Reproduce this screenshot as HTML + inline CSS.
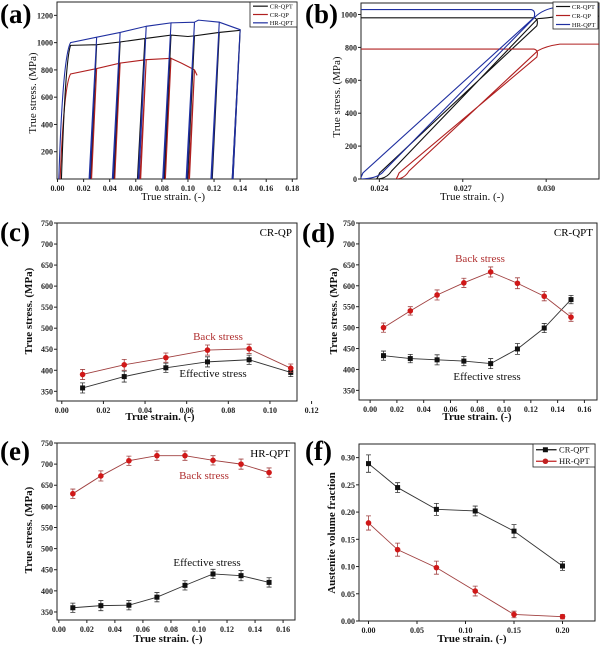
<!DOCTYPE html>
<html><head><meta charset="utf-8">
<style>
html,body{margin:0;padding:0;background:#fff;}
svg{display:block;font-family:"Liberation Serif","Times New Roman",serif;}
svg text{font-family:"Liberation Serif","Times New Roman",serif;}
</style></head>
<body>
<svg id="fig" width="600" height="646" viewBox="0 0 600 646" xmlns="http://www.w3.org/2000/svg"></svg>
<script>
// ---------- DATA ----------
// (a) cyclic stress-strain
const aStartCRQPT = 0.003, aStartCRQP = 0.002, aStartHRQPT = 0.001;
const aStrainCRQPT = [0.010,0.030,0.048,0.067,0.087,0.100,0.105,0.124,0.140];
const aStressCRQPT = [980,985,1005,1030,1055,1045,1050,1075,1090];
const aUnloadCRQPT = [0.030,0.048,0.067,0.087,0.105,0.124,0.140];
const aStrainHRQPT = [0.010,0.030,0.048,0.068,0.087,0.105,0.108,0.124,0.140];
const aStressHRQPT = [1000,1040,1075,1120,1145,1150,1165,1150,1095];
const aUnloadHRQPT = [0.030,0.048,0.068,0.087,0.105,0.124,0.140];
const aStrainCRQP = [0.010,0.030,0.048,0.068,0.087,0.095,0.103,0.105,0.107];
const aStressCRQP = [770,810,850,875,885,850,810,800,760];
const aUnloadCRQP = [0.030,0.048,0.068,0.087,0.105];
const aXTicks = [0,0.02,0.04,0.06,0.08,0.10,0.12,0.14,0.16,0.18];
const aYTicks = [200,400,600,800,1000,1200];
// (b) single hysteresis loop
const bSeries = ['CR-QPT','CR-QP','HR-QPT'];
const bPlateau = [980,790,1030];
const bPeak = [0.0297,0.0297,0.0296];
const bResidual = [0.0239,0.0246,0.0233];
const bReload = [975,780,985];
const bAfter = [990,820,1045];
const bXTicks = [0.024,0.027,0.030];
const bYTicks = [0,200,400,600,800,1000];
// (c) CR-QP
const cStrain = [0.01,0.03,0.05,0.07,0.09,0.11];
const cBack = [390,413,430,448,451,405];
const cEff = [358,385,406,420,425,395];
const cErr = [12,13,11,12,11,10];
// (d) CR-QPT
const dStrain = [0.01,0.03,0.05,0.07,0.09,0.11,0.13,0.15];
const dBack = [500,540,578,607,633,606,575,525];
const dEff = [433,426,423,420,414,449,499,567];
const dErr = [11,10,12,11,12,13,11,10];
// (e) HR-QPT
const eStrain = [0.01,0.03,0.05,0.07,0.09,0.11,0.13,0.15];
const eBack = [630,672,708,720,720,709,700,680];
const eEff = [360,365,366,385,413,440,436,420];
const eErr = [11,12,11,11,11,11,12,11];
// (f) austenite
const fStrain = [0,0.03,0.07,0.11,0.15,0.20];
const fCR = [0.289,0.245,0.205,0.202,0.165,0.101];
const fHR = [0.180,0.131,0.098,0.055,0.012,0.008];
const fErrCR = [0.016,0.009,0.011,0.009,0.012,0.008];
const fErrHR = [0.013,0.012,0.012,0.009,0.006,0.004];
const stressTicks = [350,400,450,500,550,600,650,700,750];
const strainTicks16 = [0,0.02,0.04,0.06,0.08,0.10,0.12,0.14,0.16];
const fXTicks = [0,0.05,0.10,0.15,0.20];
const fYTicks = [0,0.05,0.10,0.15,0.20,0.25,0.30];

// ---------- HELPERS ----------
const NS='http://www.w3.org/2000/svg';
const svg=document.getElementById('fig');
const BLACK='#111', RED='#b52226', BLUE='#1f2fa0';
function el(tag,parent){const e=document.createElementNS(NS,tag);parent.appendChild(e);return e;}
function set(e,o){for(const k in o)e.setAttribute(k,o[k]);return e;}
function txt(parent,x,y,s,o){const t=el('text',parent);set(t,Object.assign({x:x,y:y,'font-family':'Liberation Serif, serif'},o||{}));t.textContent=s;return t;}

function axes(p){
  const g=el('g',svg);
  
  
  const sx=v=>p.L+(v-p.xmin)/(p.xmax-p.xmin)*(p.R-p.L);
  const sy=v=>p.B-(v-p.ymin)/(p.ymax-p.ymin)*(p.B-p.T);
  const fr=el('rect',g);
  set(fr,{x:p.L,y:p.T,width:p.R-p.L,height:p.B-p.T,fill:'none',stroke:'#222','stroke-width':1});
  
  
  p.xt.forEach(v=>{
    const x=sx(v);
    const tk=el('line',g);set(tk,{x1:x,x2:x,y1:p.B,y2:p.B+3,stroke:'#222'});
    
    
    const t=txt(g,x,p.B+12,v.toFixed(p.xd),{'font-size':8,'font-weight':'bold','text-anchor':'middle',fill:'#222'});
    
    
  });
  p.yt.forEach(v=>{
    const y=sy(v);
    const tk=el('line',g);set(tk,{x1:p.L-3,x2:p.L,y1:y,y2:y,stroke:'#222'});
    
    
    const t=txt(g,p.L-4,y+3,v.toFixed(p.yd),{'font-size':8,'font-weight':'bold','text-anchor':'end',fill:'#222'});
    
    
  });
  const xt=txt(g,p.xtx,p.xty,p.xtitle,{'font-size':p.tfs,'font-weight':p.bold?'bold':'normal','text-anchor':'middle',fill:'#111'});
  
  
  const yt=txt(g,0,0,p.ytitle,{'font-size':p.tfs,'font-weight':p.bold?'bold':'normal','text-anchor':'middle',fill:'#111',transform:'translate('+p.ytx+','+p.yty+') rotate(-90)'});
  
  
  const pl=txt(g,p.plx,p.ply,p.plabel,{'font-size':27,'font-weight':'bold',fill:'#000'});
  
  
  const cp=el('clipPath',g);set(cp,{id:'clip-'+p.name});
  set(el('rect',cp),{x:p.L,y:p.T,width:p.R-p.L,height:p.B-p.T});
  const inner=el('g',g);set(inner,{'clip-path':'url(#clip-'+p.name+')'});
  
  
  return {g,inner,sx,sy,L:p.L,R:p.R,T:p.T,B:p.B};
}
function legend(g,x,y,w,h,names,colors,marks,fs){
  const lg=el('g',g);
  
  
  set(el('rect',lg),{x:x,y:y,width:w,height:h,fill:'#fff',stroke:'#222','stroke-width':0.8});
  const step=h/names.length;
  names.forEach((n,i)=>{
    const e=el('g',lg);
    
    
    const yy=y+step*(i+0.5);
    set(el('line',e),{x1:x+3,x2:x+w*0.38,y1:yy,y2:yy,stroke:colors[i],'stroke-width':1.2});
    if(marks){marker(e,x+w*0.2,yy,marks[i],colors[i]);}
    txt(e,x+w*0.42,yy+fs*0.35,n,{'font-size':fs,fill:'#111'});
  });
}
function marker(g,x,y,type,c){
  if(type==='sq'){set(el('rect',g),{x:x-2.5,y:y-2.5,width:5,height:5,fill:c});}
  else{set(el('circle',g),{cx:x,cy:y,r:2.8,fill:c});}
}
function series(ax,xs,ys,err,color,lineColor,type,name){
  const g=el('g',ax.g);
  
  
  const pts=xs.map((x,i)=>ax.sx(x)+','+ax.sy(ys[i])).join(' ');
  set(el('polyline',g),{points:pts,fill:'none',stroke:lineColor,'stroke-width':0.9});
  xs.forEach((x,i)=>{
    const px=ax.sx(x),y1=ax.sy(ys[i]+err[i]),y2=ax.sy(ys[i]-err[i]);
    const eb=el('path',g);
    set(eb,{d:`M${px},${y1}V${y2}M${px-2.5},${y1}H${px+2.5}M${px-2.5},${y2}H${px+2.5}`,stroke:lineColor,'stroke-width':0.8,fill:'none'});
    
    
    const m=el('g',g);
    
    
    marker(m,px,ax.sy(ys[i]),type,color);
  });
}

// ---------- (a) ----------
const A=axes({name:'panel-a',L:57,R:297,T:2,B:179,xmin:-0.0004,xmax:0.1836,ymin:0,ymax:1298,
  xt:aXTicks,yt:aYTicks,xd:2,yd:0,bold:false,tfs:11,xtitle:'True strain. (-)',xtx:173,xty:200,
  ytitle:'True stress. (MPa)',ytx:36,yty:93,plabel:'(a)',plx:0,ply:23});
function interp(xs,ys,x){for(let i=0;i<xs.length-1;i++){if(x>=xs[i]&&x<=xs[i+1]){return ys[i]+(ys[i+1]-ys[i])*(x-xs[i])/(xs[i+1]-xs[i]);}}return ys[ys.length-1];}
function cyclic(start,xs,ys,un,color,name,E){
  let d=`M${A.sx(start)},${A.sy(0)}`;
  d+=` Q${A.sx(start+0.003)},${A.sy(ys[0]*0.9)} ${A.sx(xs[0])},${A.sy(ys[0])}`;
  const pts=[];
  xs.forEach((x,i)=>pts.push([x,ys[i]]));
  un.forEach(u=>{if(!xs.includes(u))pts.push([u,interp(xs,ys,u)]);});
  pts.sort((a,b)=>a[0]-b[0]);
  pts.forEach(p=>{
    d+=` L${A.sx(p[0])},${A.sy(p[1])}`;
    if(un.includes(p[0])){
      const r=p[0]-p[1]/E;
      d+=` L${A.sx(r)},${A.sy(0)} L${A.sx(r+0.0006)},${A.sy(0)} L${A.sx(p[0])},${A.sy(p[1])}`;
    }
  });
  const path=el('path',A.inner);
  set(path,{d:d,fill:'none',stroke:color,'stroke-width':1.1});
  
  
}
cyclic(aStartCRQP,aStrainCRQP,aStressCRQP,aUnloadCRQP,'#b02020','series-cr-qp',180000);
cyclic(aStartCRQPT,aStrainCRQPT,aStressCRQPT,aUnloadCRQPT,BLACK,'series-cr-qpt',180000);
cyclic(aStartHRQPT,aStrainHRQPT,aStressHRQPT,aUnloadHRQPT,BLUE,'series-hr-qpt',180000);
legend(A.g,250,2,47,25,['CR-QPT','CR-QP','HR-QPT'],[BLACK,'#b02020',BLUE],null,6.5);

// ---------- (b) ----------
const Bx=axes({name:'panel-b',L:361,R:599,T:3,B:179,xmin:0.02334,xmax:0.0319,ymin:0,ymax:1070,
  xt:bXTicks,yt:bYTicks,xd:3,yd:0,bold:false,tfs:11,xtitle:'True strain. (-)',xtx:472,xty:200,
  ytitle:'True stress. (MPa)',ytx:340,yty:97,plabel:'(b)',plx:305,ply:23});
const bColors=[BLACK,'#b02020',BLUE];
const bWidth=[11,9,20];
bSeries.forEach((n,i)=>{
  const xp=Bx.sx(bPeak[i]),yp=Bx.sy(bPlateau[i]),xr=Bx.sx(bResidual[i]),y0=Bx.sy(0);
  const yr=Bx.sy(bReload[i]),ya=Bx.sy(bAfter[i]);
  const wd=bWidth[i];
  let d=`M${Bx.L},${yp} L${xp-4},${yp} Q${xp+1},${yp+1} ${xp-1},${yp+8}`;
  d+=` L${xr+3},${y0-6} Q${xr+1},${y0-1} ${xr},${y0}`;
  d+=` Q${xr+wd*0.9},${y0} ${xr+wd+4},${y0-8} L${xp},${yr}`;
  d+=` Q${xp+8},${ya+2} ${xp+22},${ya} L${Bx.R},${ya}`;
  const path=el('path',Bx.inner);
  set(path,{d:d,fill:'none',stroke:bColors[i],'stroke-width':1.1});
  
  
});
legend(Bx.g,553,2,45,27,['CR-QPT','CR-QP','HR-QPT'],[BLACK,'#b02020',BLUE],null,6.5);

// ---------- (c) ----------
const C=axes({name:'panel-c',L:57,R:297,T:223,B:401,xmin:-0.0023,xmax:0.113,ymin:327,ymax:750,
  xt:[0,0.02,0.04,0.06,0.08,0.10,0.12],yt:stressTicks,xd:2,yd:0,bold:true,tfs:11,xtitle:'True strain. (-)',xtx:160,xty:420,
  ytitle:'True stress. (MPa)',ytx:32,yty:311,plabel:'(c)',plx:0,ply:241});
series(C,cStrain,cEff,cErr,BLACK,'#333','sq','effective-stress-series');
series(C,cStrain,cBack,cErr,'#d01818','#a04040','ci','back-stress-series');
txt(C.g,292,236,'CR-QP',{'font-size':11,'text-anchor':'end'});
txt(C.g,218,340,'Back stress',{'font-size':11,'text-anchor':'middle',fill:'#b03030'});
txt(C.g,213,377,'Effective stress',{'font-size':11,'text-anchor':'middle',fill:'#111'});

// ---------- (d) ----------
const D=axes({name:'panel-d',L:359,R:597,T:223,B:400,xmin:-0.0083,xmax:0.1694,ymin:327,ymax:750,
  xt:strainTicks16,yt:stressTicks,xd:2,yd:0,bold:true,tfs:11,xtitle:'True strain. (-)',xtx:477,xty:420,
  ytitle:'True stress. (MPa)',ytx:337,yty:311,plabel:'(d)',plx:302,ply:242});
series(D,dStrain,dEff,dErr,BLACK,'#333','sq','effective-stress-series');
series(D,dStrain,dBack,dErr,'#d01818','#a04040','ci','back-stress-series');
txt(D.g,593,236,'CR-QPT',{'font-size':11,'text-anchor':'end'});
txt(D.g,480,262,'Back stress',{'font-size':11,'text-anchor':'middle',fill:'#b03030'});
txt(D.g,487,380,'Effective stress',{'font-size':11,'text-anchor':'middle',fill:'#111'});

// ---------- (e) ----------
const Ee=axes({name:'panel-e',L:57,R:295,T:443,B:620,xmin:-0.0013,xmax:0.1685,ymin:331,ymax:750,
  xt:strainTicks16,yt:stressTicks,xd:2,yd:0,bold:true,tfs:11,xtitle:'True strain. (-)',xtx:168,xty:642,
  ytitle:'True stress. (MPa)',ytx:32,yty:530,plabel:'(e)',plx:0,ply:460});
series(Ee,eStrain,eEff,eErr,BLACK,'#333','sq','effective-stress-series');
series(Ee,eStrain,eBack,eErr,'#d01818','#a04040','ci','back-stress-series');
txt(Ee.g,290,457,'HR-QPT',{'font-size':11,'text-anchor':'end'});
txt(Ee.g,204,479,'Back stress',{'font-size':11,'text-anchor':'middle',fill:'#b03030'});
txt(Ee.g,207,566,'Effective stress',{'font-size':11,'text-anchor':'middle',fill:'#111'});

// ---------- (f) ----------
const F=axes({name:'panel-f',L:359,R:595,T:444,B:621,xmin:-0.0098,xmax:0.2335,ymin:0,ymax:0.325,
  xt:fXTicks,yt:fYTicks,xd:2,yd:2,bold:true,tfs:11,xtitle:'True strain. (-)',xtx:472,xty:642,
  ytitle:'Austenite volume fraction',ytx:335,yty:533,plabel:'(f)',plx:305,ply:460});
series(F,fStrain,fCR,fErrCR,BLACK,'#333','sq','cr-qpt-series');
series(F,fStrain,fHR,fErrHR,'#d01818','#a04040','ci','hr-qpt-series');
legend(F.g,533,444,62,23,['CR-QPT','HR-QPT'],[BLACK,'#c02020'],['sq','ci'],8.5);
</script>
</body></html>
